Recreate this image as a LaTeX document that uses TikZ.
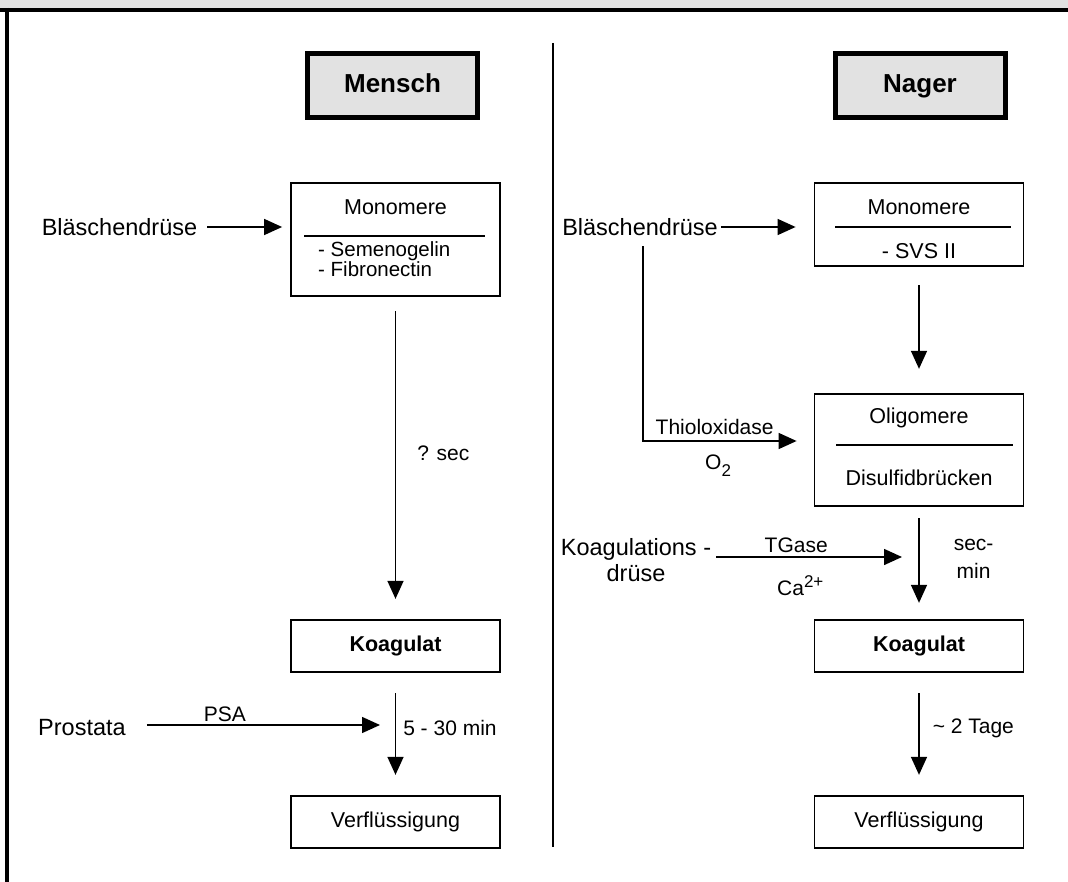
\documentclass[tikz,border=0pt]{standalone}
\usepackage{fontspec}
\setmainfont{Liberation Sans}
\usetikzlibrary{arrows.meta,positioning}
\definecolor{headgray}{HTML}{E2E2E2}
\begin{document}
\begin{tikzpicture}[x=1pt,y=-1pt,>={Triangle[length=18pt,width=16pt]},
box/.style={draw,line width=1.8pt,minimum width=209pt,inner sep=3pt,font=\fontsize{21.5}{22}\selectfont},
headbox/.style={draw,line width=5pt,fill=headgray,minimum width=170pt,minimum height=64pt,text height=19pt,text depth=5pt,font=\fontsize{26}{28}\selectfont\bfseries},
lbl/.style={inner sep=3pt,font=\fontsize{23.5}{26}\selectfont,align=center},
txt/.style={inner sep=3pt,font=\fontsize{21.5}{20}\selectfont,align=left},
note/.style={inner sep=3pt,font=\fontsize{21}{28}\selectfont,align=center},
flow/.style={->,line width=1.5pt}]
\useasboundingbox (0,0) rectangle (1068,882);
\fill[headgray] (0,0) rectangle (1068,8);
\draw[line width=4pt] (0,10) -- (1068,10);
\draw[line width=4pt] (7,8) -- (7,882);
\draw[line width=1.5pt] (553,43) -- (553,847);
\node[headbox] (mensch) at (392.5,85.5) {Mensch};
\node[headbox] (nager) at (920,85.5) {Nager};
\node[lbl] (blaesL) at (119.5,227) {Bläschendrüse};
\node[box,minimum height=113.5pt] (monoL) at (395.5,239.5) {};
\node[txt] (monoLt) at (395.5,207) {Monomere};
\draw[line width=1.5pt] (304,236) -- (485,236);
\node[txt,anchor=west,font=\fontsize{20.5}{20}\selectfont] (monoLi) at (315,259.5) {- Semenogelin\\- Fibronectin};
\node[box,minimum height=52.5pt,font=\fontsize{21.5}{22}\selectfont\bfseries] (koagL) at (395.5,646) {Koagulat};
\node[box,minimum height=52.5pt] (verfL) at (395.5,822) {Verflüssigung};
\node[lbl] (prost) at (82,728) {Prostata};
\node[lbl] (blaesR) at (640,227) {Bläschendrüse};
\node[box,minimum height=83.5pt] (monoR) at (919,224.5) {};
\node[txt] (monoRt) at (919,207) {Monomere};
\draw[line width=1.5pt] (835,227) -- (1011,227);
\node[txt] (monoRi) at (919,251) {- SVS II};
\node[box,minimum height=112.5pt] (oligo) at (919,450) {};
\node[txt] (oligot) at (919,418) {Oligomere};
\draw[line width=1.5pt] (836,445) -- (1013,445);
\node[txt] (oligoi) at (919,478) {Disulfidbrücken};
\node[box,minimum height=52.5pt,font=\fontsize{21.5}{22}\selectfont\bfseries] (koagR) at (919,646) {Koagulat};
\node[box,minimum height=52.5pt] (verfR) at (919,822) {Verflüssigung};
\node[lbl] (koagDr) at (636,560) {Koagulations -\\drüse};
\draw[flow,shorten <=7pt,shorten >=8pt] (blaesL.east) -- (blaesL.east -| monoL.west);
\draw[flow,shorten <=14pt,shorten >=20pt] (monoL) -- (koagL) node[note,midway,right=18pt,yshift=5pt] (qsec) {? sec};
\draw[flow,shorten <=20pt,shorten >=20pt] (koagL) -- (verfL) node[note,midway,right=4pt,yshift=6pt] (mins) {5 - 30 min};
\draw[flow,shorten <=18pt,shorten >=15.5pt] ([yshift=3pt]prost.east) -- ([yshift=3pt]prost.east -| koagL.south) node[note,pos=.36,above] (psa) {PSA};
\draw[flow,shorten >=18pt] (blaesR.east) -- (blaesR.east -| monoR.west);
\draw[flow,shorten <=7.5pt,shorten >=17pt] ([xshift=3pt]blaesR.south) |- ([yshift=9pt]oligo.west) node[note,pos=.71,above=3pt] (thio) {Thioloxidase} node[note,pos=.72,below=10.5pt] (otwo) {O\raisebox{-7pt}{\fontsize{17}{17}\selectfont 2}};
\draw[flow,shorten <=18pt,shorten >=24pt] (monoR) -- (oligo);
\draw[flow,shorten <=11pt,shorten >=16pt] (oligo) -- (koagR) node[note,midway,right=31pt,yshift=4pt] (secmin) {sec-\\min};
\draw[flow,shorten <=2pt,shorten >=17pt] ([yshift=3pt]koagDr.east) -- ([yshift=3pt]koagDr.east -| oligo.south) node[note,pos=.4,above=1pt] (tgase) {TGase} node[note,pos=.42,below=15pt] (ca) {Ca\raisebox{8pt}{\fontsize{17}{17}\selectfont 2+}};
\draw[flow,shorten <=20pt,shorten >=20pt] (koagR) -- (verfR) node[note,midway,right=10pt,yshift=6pt] (tage) {\textasciitilde{} 2 Tage};
\end{tikzpicture}
\end{document}
